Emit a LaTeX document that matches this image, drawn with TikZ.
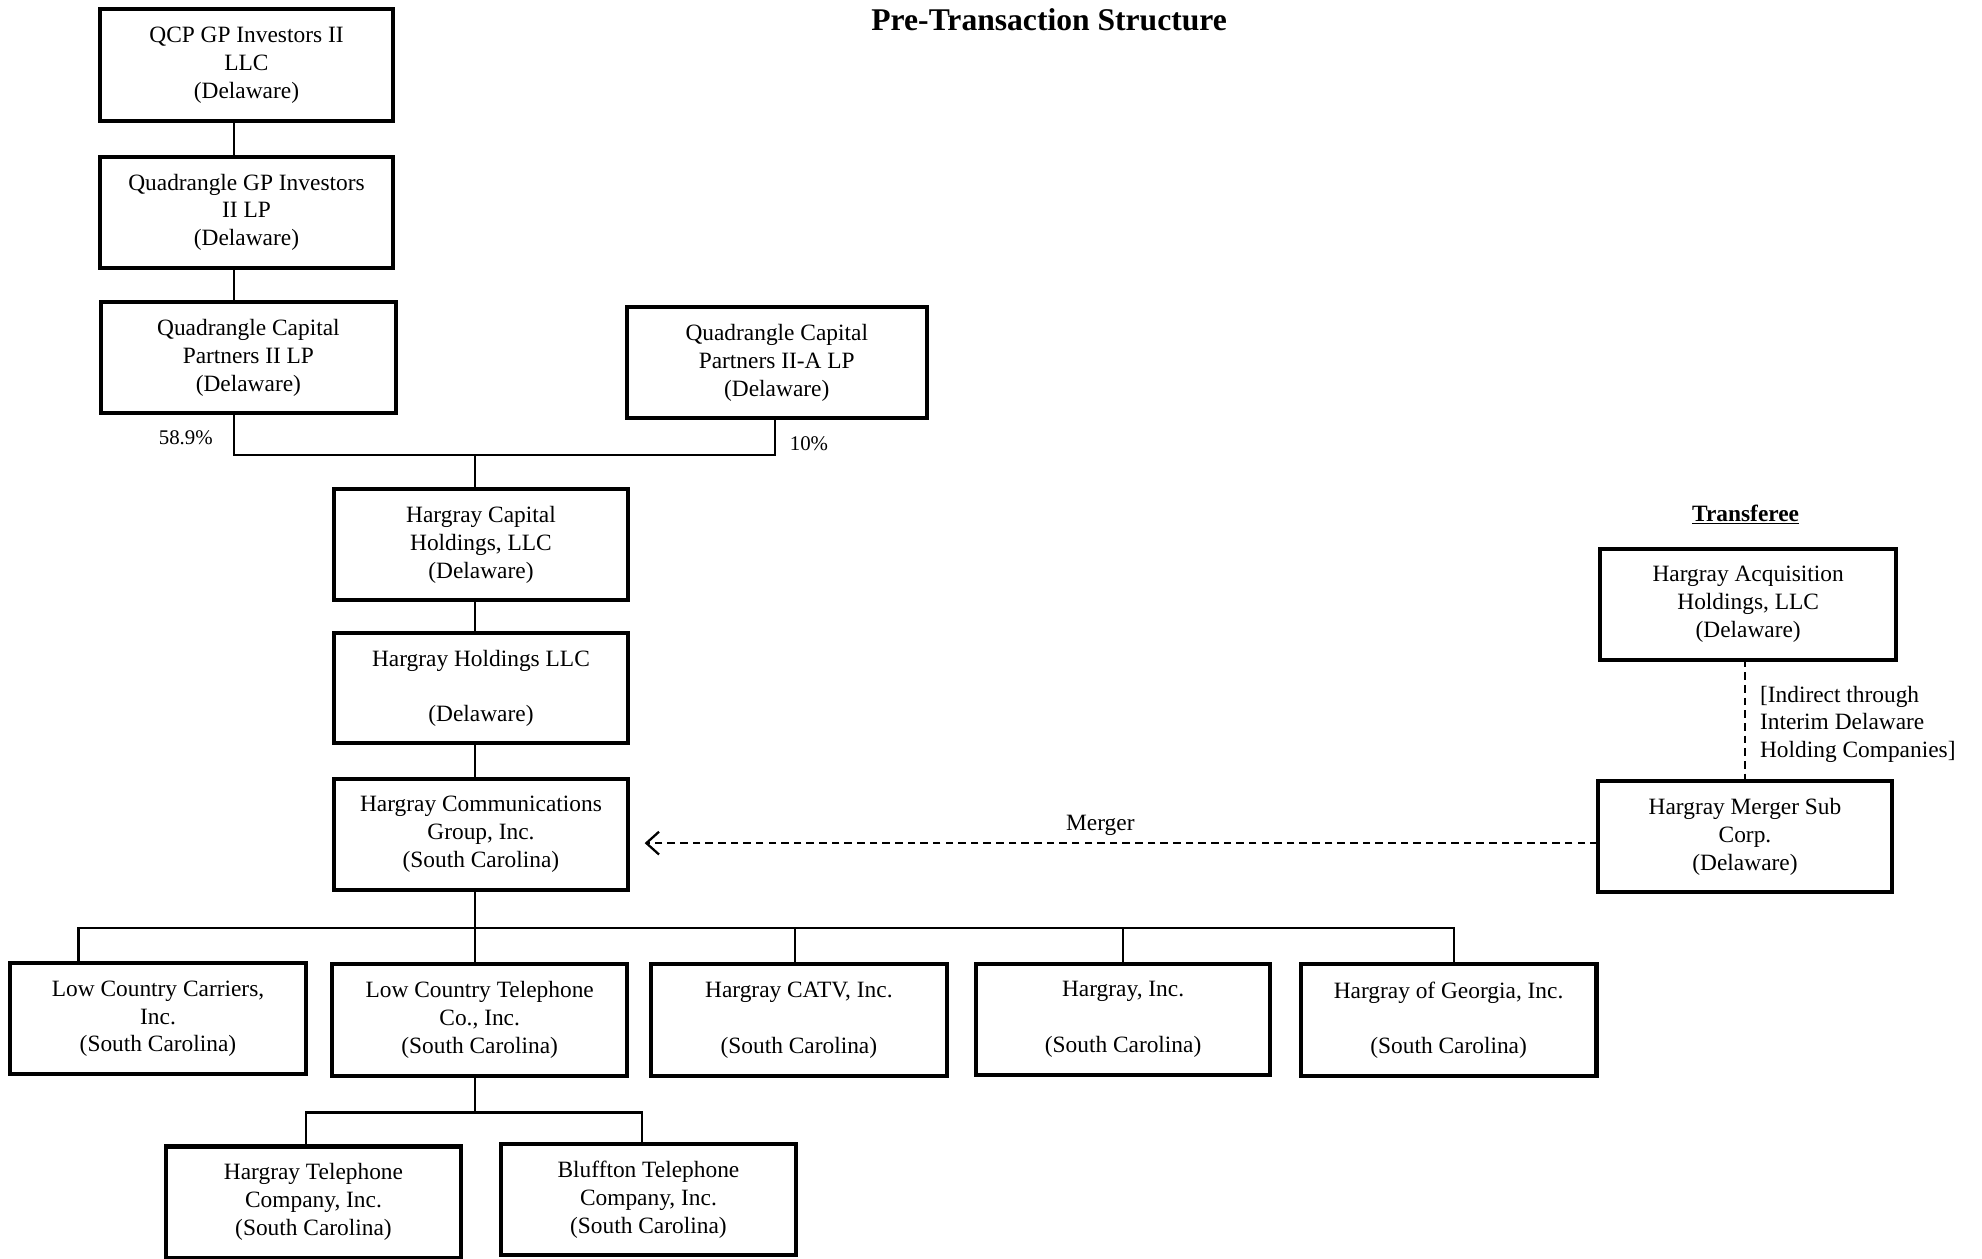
\documentclass[tikz,border=0pt]{standalone}
\usepackage{fontspec}
\setmainfont{Liberation Serif}
\usetikzlibrary{arrows.meta,calc}
\tikzset{
  box/.style={draw, line width=3.2pt, rectangle, minimum width=233pt, minimum height=88pt,
    inner sep=0pt, outer sep=0pt, align=center, font=\fontsize{18.5}{22}\selectfont},
  link/.style={line width=1.8pt, line join=miter},
  dlink/.style={line width=1.8pt, dash pattern=on 6pt off 4pt},
  lbl/.style={inner sep=0pt, font=\fontsize{18.5}{22}\selectfont},
  pct/.style={inner sep=0pt, font=\fontsize{16.5}{20}\selectfont}
}
\begin{document}
\begin{tikzpicture}[x=1pt,y=-1pt]
\useasboundingbox (0,0) rectangle (1568,996);

\node[inner sep=0pt, font=\fontsize{25}{30}\selectfont\bfseries] (title) at (830,16) {Pre-Transaction Structure};

\node[box, minimum width=232pt, minimum height=89pt] (qcp) at (195,51.5) {QCP GP Investors II\\LLC\\(Delaware)};
\node[box, minimum width=232pt] (gp) at (195,168) {Quadrangle GP Investors\\II LP\\(Delaware)};
\node[box] (qcp2) at (196.5,283) {Quadrangle Capital\\Partners II LP\\(Delaware)};
\node[box, minimum width=237pt] (qcp2a) at (614.5,287) {Quadrangle Capital\\Partners II-A LP\\(Delaware)};
\node[box] (hcap) at (380.5,431) {Hargray Capital\\Holdings, LLC\\(Delaware)};
\node[box, minimum height=87pt] (hhold) at (380.5,544.5) {Hargray Holdings LLC\\[22pt](Delaware)};
\node[box] (hcg) at (380.5,660) {Hargray Communications\\Group, Inc.\\(South Carolina)};
\node[box, minimum width=234pt] (acq) at (1383,478) {Hargray Acquisition\\Holdings, LLC\\(Delaware)};
\node[box] (msub) at (1380.5,662) {Hargray Merger Sub\\Corp.\\(Delaware)};
\node[box, minimum width=234pt] (lcc) at (125,806) {Low Country Carriers,\\Inc.\\(South Carolina)};
\node[box] (lct) at (379.5,807) {Low Country Telephone\\Co., Inc.\\(South Carolina)};
\node[box, minimum width=234pt] (catv) at (632,807) {Hargray CATV, Inc.\\[22pt](South Carolina)};
\node[box] (hinc) at (888.5,806.5) {Hargray, Inc.\\[22pt](South Carolina)};
\node[box, minimum width=234pt] (hog) at (1146,807) {Hargray of Georgia, Inc.\\[22pt](South Carolina)};
\node[box, minimum width=234pt] (htc) at (248,951) {Hargray Telephone\\Company, Inc.\\(South Carolina)};
\node[box, minimum width=234pt] (bluff) at (513,949) {Bluffton Telephone\\Company, Inc.\\(South Carolina)};

\node[lbl] (transferee) at (1381,407) {\underline{\textbf{Transferee}}};
\node[pct] (p589) at (147,346) {58.9\%};
\node[pct] (p10) at (640,351) {10\%};

\coordinate (bus1) at (376,360);
\coordinate (bus2) at (376,734);
\coordinate (bus3) at (376,880);

\draw[link] ([xshift=-10pt]qcp.south) -- ([xshift=-10pt]qcp.south |- gp.north);
\draw[link] ([xshift=-10pt]gp.south) -- ([xshift=-10pt]gp.south |- qcp2.north);
\draw[link] ([xshift=-11.5pt]qcp2.south) |- (bus1) -| ([xshift=-1.5pt]qcp2a.south);
\draw[link] (bus1) -- (bus1 |- hcap.north);
\draw[link] ([xshift=-4.5pt]hcap.south) -- ([xshift=-4.5pt]hcap.south |- hhold.north);
\draw[link] ([xshift=-4.5pt]hhold.south) -- ([xshift=-4.5pt]hhold.south |- hcg.north);
\draw[link] ([xshift=-4.5pt]hcg.south) -- (bus2);
\draw[link] ([xshift=-63pt]lcc.north) |- (bus2) -| ([xshift=4pt]hog.north);
\draw[link] (bus2) -- (bus2 |- lct.north);
\draw[link] ([xshift=-3pt]catv.north |- bus2) -- ([xshift=-3pt]catv.north);
\draw[link] (hinc.north |- bus2) -- (hinc.north);
\draw[link] ([xshift=-3.5pt]lct.south) -- (bus3);
\draw[link] ([xshift=-6pt]htc.north) |- (bus3) -| ([xshift=-5pt]bluff.north);

\draw[dlink] (acq.south -| msub.north) -- (msub.north)
  node[midway, right=11pt, yshift=-3pt, align=left, lbl] (indirect) {[Indirect through\\Interim Delaware\\Holding Companies]};

\draw[dlink, -{Straight Barb[length=10pt,width=18pt,line width=1.8pt]}, shorten >=13pt]
  ([yshift=-5pt]msub.west) -- ([yshift=-5pt]msub.west -| hcg.east)
  node[pos=0.513, above=5pt, lbl] (mergerlbl) {Merger};
\end{tikzpicture}
\end{document}
